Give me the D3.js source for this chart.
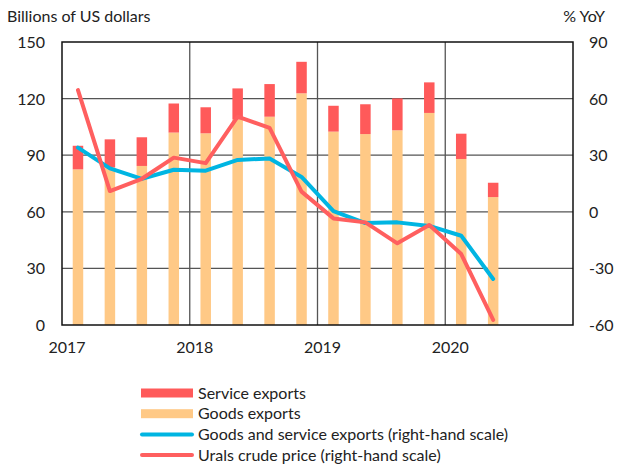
<!DOCTYPE html>
<html>
<head>
<meta charset="utf-8">
<script src="https://cdn.jsdelivr.net/npm/d3@7"></script>
<style>
  body { margin: 0; background: #fff; }
  text { font-family: Lato, "Open Sans", sans-serif; fill: #222; }
</style>
</head>
<body>
<div id="chart"></div>
<script>
// quarterly data, 2017Q1 - 2020Q2
var quarters = ["2017Q1","2017Q2","2017Q3","2017Q4","2018Q1","2018Q2","2018Q3","2018Q4",
                "2019Q1","2019Q2","2019Q3","2019Q4","2020Q1","2020Q2"];
var goods    = [82.5, 83.5, 84.3, 102, 101.6, 109, 110.4, 122.8, 102.5, 101.2, 103.2, 112.4, 88, 67.8];
var services = [12.5, 14.9, 15.2, 15.4, 13.8, 16.4, 17.3, 16.7, 13.7, 15.8, 16.9, 16.2, 13.4, 7.6];
var totalYoY = [34, 23, 17.5, 22.3, 21.8, 27.5, 28.3, 18.5, 0.3, -6, -5.6, -7.5, -12.7, -35.6];
var uralsYoY = [64.5, 11, 17.5, 28.7, 25.8, 50.4, 44.5, 10.7, -3.5, -5.6, -16.7, -7, -22.4, -57.3];
var years = [2017, 2018, 2019, 2020];
var leftTicks = [0, 30, 60, 90, 120, 150];
var rightTicks = [-60, -30, 0, 30, 60, 90];

var W = 618, H = 468;
var margin = {top: 42, left: 62, right: 45, bottom: 143};
var width = W - margin.left - margin.right,
    height = H - margin.top - margin.bottom;

var red = "#ff5a5a", orange = "#ffc986", blue = "#00b5e2", lineRed = "#ff5f5f";

var svg = d3.select("#chart").append("svg")
    .attr("width", W).attr("height", H);

var g = svg.append("g")
    .attr("transform", "translate(" + margin.left + "," + margin.top + ")");

var x = d3.scaleLinear().domain([2017, 2021]).range([0, width]);
var yL = d3.scaleLinear().domain([0, 150]).range([height, 0]);
var yR = d3.scaleLinear().domain([-60, 90]).range([height, 0]);

function qPos(i) { return x(2017 + (i + 0.5) / 4); }

// gridlines
g.selectAll(".hgrid").data(leftTicks.slice(1, -1)).enter().append("line")
  .attr("x1", 0).attr("x2", width)
  .attr("y1", d => yL(d)).attr("y2", d => yL(d))
  .attr("stroke", "#555").attr("stroke-width", 1.3);
g.selectAll(".vgrid").data(years.slice(1)).enter().append("line")
  .attr("y1", 0).attr("y2", height)
  .attr("x1", d => x(d)).attr("x2", d => x(d))
  .attr("stroke", "#555").attr("stroke-width", 1.3);

// stacked bars
var bw = 10.5;
g.selectAll(".goods").data(goods).enter().append("rect")
  .attr("x", (d, i) => qPos(i) - bw / 2).attr("width", bw)
  .attr("y", d => yL(d)).attr("height", d => yL(0) - yL(d))
  .attr("fill", orange);
g.selectAll(".serv").data(services).enter().append("rect")
  .attr("x", (d, i) => qPos(i) - bw / 2).attr("width", bw)
  .attr("y", (d, i) => yL(goods[i] + d)).attr("height", (d, i) => yL(goods[i]) - yL(goods[i] + d))
  .attr("fill", red);

// lines
var line = d3.line().x((d, i) => qPos(i)).y(d => yR(d));
g.append("path").datum(totalYoY).attr("d", line)
  .attr("fill", "none").attr("stroke", blue).attr("stroke-width", 4)
  .attr("stroke-linejoin", "round").attr("stroke-linecap", "round");
g.append("path").datum(uralsYoY).attr("d", line)
  .attr("fill", "none").attr("stroke", lineRed).attr("stroke-width", 4)
  .attr("stroke-linejoin", "round").attr("stroke-linecap", "round");

// frame
g.append("rect").attr("width", width).attr("height", height)
  .attr("fill", "none").attr("stroke", "#111").attr("stroke-width", 1.5);

// tick labels
g.selectAll(".lt").data(leftTicks).enter().append("text")
  .attr("x", -17).attr("y", d => yL(d) + 6)
  .attr("text-anchor", "end").attr("font-size", 16).text(d => d);
g.selectAll(".rt").data(rightTicks).enter().append("text")
  .attr("x", width + 16).attr("y", d => yR(d) + 6)
  .attr("text-anchor", "start").attr("font-size", 16).text(d => d);
g.selectAll(".xt").data(years).enter().append("text")
  .attr("x", d => x(d) + 5).attr("y", height + 28)
  .attr("text-anchor", "middle").attr("font-size", 16).text(d => d);

svg.append("text").attr("x", 7).attr("y", 22).attr("font-size", 16)
  .text("Billions of US dollars");
svg.append("text").attr("x", 605).attr("y", 22).attr("font-size", 16)
  .attr("text-anchor", "end").text("% YoY");

// legend
var legend = [
  {label: "Service exports", type: "rect", color: red},
  {label: "Goods exports", type: "rect", color: orange},
  {label: "Goods and service exports (right-hand scale)", type: "line", color: blue},
  {label: "Urals crude price (right-hand scale)", type: "line", color: lineRed}
];
var lg = svg.append("g").attr("transform", "translate(141,393)");
var row = lg.selectAll(".row").data(legend).enter().append("g")
  .attr("transform", (d, i) => "translate(0," + (i * 20.7) + ")");
row.filter(d => d.type == "rect").append("rect")
  .attr("x", 0).attr("y", -4.5).attr("width", 52).attr("height", 9)
  .attr("fill", d => d.color);
row.filter(d => d.type == "line").append("line")
  .attr("x1", 1).attr("x2", 51).attr("y1", 0).attr("y2", 0)
  .attr("stroke", d => d.color).attr("stroke-width", 4).attr("stroke-linecap", "round");
row.append("text").attr("x", 57).attr("y", 5.5).attr("font-size", 16)
  .text(d => d.label);
</script>
</body>
</html>
